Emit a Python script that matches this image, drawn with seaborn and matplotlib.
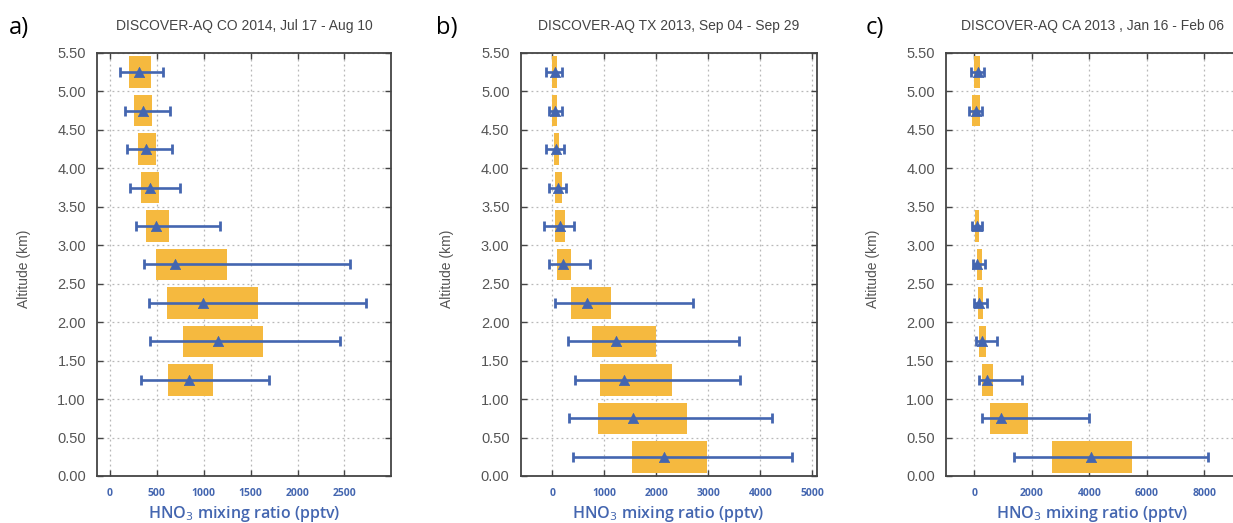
import matplotlib
matplotlib.use('Agg')
import matplotlib.pyplot as plt
import numpy as np
import pandas as pd
import seaborn as sns

# Altitude bin centres (km) and HNO3 statistics (pptv)
alt_a = [5.25, 4.75, 4.25, 3.75, 3.25, 2.75, 2.25, 1.75, 1.25]
box_lo_a = [206, 259, 298, 337, 387, 493, 606, 780, 621]
box_hi_a = [436, 454, 493, 528, 631, 1245, 1578, 1635, 1099]
mid_a = [312, 358, 383, 426, 489, 695, 993, 1156, 840]
err_lo_a = [106, 160, 184, 213, 280, 365, 422, 433, 337]
err_hi_a = [571, 642, 663, 748, 1170, 2557, 2734, 2454, 1699]

alt_b = [5.25, 4.75, 4.25, 3.75, 3.25, 2.75, 2.25, 1.75, 1.25, 0.75, 0.25]
box_lo_b = [-6, -6, 26, 45, 45, 90, 359, 769, 910, 872, 1532]
box_hi_b = [96, 96, 135, 180, 237, 365, 1122, 2000, 2301, 2596, 2981]
mid_b = [45, 45, 64, 115, 141, 212, 660, 1224, 1385, 1558, 2154]
err_lo_b = [-122, -70, -122, -64, -167, -64, 58, 295, 442, 321, 391]
err_hi_b = [180, 180, 224, 263, 417, 718, 2712, 3596, 3615, 4224, 4609]

alt_c = [5.25, 4.75, 3.25, 2.75, 2.25, 1.75, 1.25, 0.75, 0.25]
box_lo_c = [0, -93, 12, 81, 127, 162, 267, 533, 2689]
box_hi_c = [209, 209, 162, 255, 301, 417, 661, 1854, 5482]
mid_c = [116, 58, 93, 93, 174, 255, 452, 916, 4045]
err_lo_c = [-104, -174, -70, -35, 0, 46, 151, 278, 1391]
err_hi_c = [336, 278, 278, 382, 440, 776, 1669, 3987, 8136]

titles = ['DISCOVER-AQ CO 2014, Jul 17 - Aug 10',
          'DISCOVER-AQ TX 2013, Sep 04 - Sep 29',
          'DISCOVER-AQ CA 2013 , Jan 16 - Feb 06']
panel_tags = ['a)', 'b)', 'c)']
x_ticks = [np.arange(0, 2501, 500), np.arange(0, 5001, 1000), np.arange(0, 8001, 2000)]
x_lims = [(-135, 2995), (-608, 5085), (-985, 9200)]
y_ticks = np.arange(0, 5.51, 0.5)

sns.set_theme(style='ticks')
plt.rcParams['font.family'] = ['Liberation Sans', 'DejaVu Sans']

orange = '#f5b93f'
blue = '#4466b0'
grey_txt = '#555555'

fig = plt.figure(figsize=(12.33, 5.23), dpi=100)
positions = [[0.0787, 0.0899, 0.2384, 0.8088],
             [0.4223, 0.0899, 0.2401, 0.8088],
             [0.7672, 0.0899, 0.2376, 0.8088]]

panels = [
    (alt_a, box_lo_a, box_hi_a, mid_a, err_lo_a, err_hi_a),
    (alt_b, box_lo_b, box_hi_b, mid_b, err_lo_b, err_hi_b),
    (alt_c, box_lo_c, box_hi_c, mid_c, err_lo_c, err_hi_c),
]

for i, (alt, blo, bhi, mid, elo, ehi) in enumerate(panels):
    ax = fig.add_axes(positions[i])
    df = pd.DataFrame({'alt': alt, 'blo': blo, 'bhi': bhi, 'mid': mid, 'elo': elo, 'ehi': ehi})

    # interquartile-style boxes
    ax.barh(df['alt'], df['bhi'] - df['blo'], left=df['blo'], height=0.41,
            color=orange, edgecolor='none', zorder=2)
    # range whiskers
    ax.errorbar(df['mid'], df['alt'],
                xerr=[df['mid'] - df['elo'], df['ehi'] - df['mid']],
                fmt='none', ecolor=blue, elinewidth=1.9, capsize=3.5, capthick=2, zorder=3)
    sns.scatterplot(data=df, x='mid', y='alt', marker='^', s=55, color=blue,
                    edgecolor=blue, linewidth=0.5, ax=ax, zorder=4)

    ax.set_xlim(*x_lims[i])
    ax.set_ylim(0, 5.5)
    ax.set_xticks(x_ticks[i])
    ax.set_yticks(y_ticks)
    ax.set_yticklabels([f'{v:.2f}' for v in y_ticks])
    ax.set_axisbelow(True)
    ax.grid(True, linestyle=(0, (1.5, 2.5)), color='#b8b8b8', linewidth=0.9)

    for sp in ax.spines.values():
        sp.set_color('#444444')
        sp.set_linewidth(1.3)
    ax.tick_params(direction='in', top=True, right=True, length=4, width=1, color='#444444')
    ax.tick_params(axis='y', labelsize=10.5, labelcolor=grey_txt, pad=8)
    ax.tick_params(axis='x', labelsize=7.5, labelcolor=blue, pad=9)
    for lab in ax.get_xticklabels():
        lab.set_fontweight('bold')
        lab.set_family('Open Sans')

    ax.set_xlabel('HNO$_3$ mixing ratio (pptv)', color=blue, fontsize=11.5,
                  fontweight='semibold', family='Open Sans', labelpad=3)
    ax.set_ylabel('Altitude (km)', color=grey_txt, fontsize=10)
    ax.yaxis.set_label_coords(-0.225, 0.49)

    xc = positions[i][0] + positions[i][2] / 2
    fig.text(xc, 0.950, titles[i], ha='center', va='center', fontsize=10, color='#444444')

tag_x = [0.007, 0.354, 0.702]
for t, x in zip(panel_tags, tag_x):
    fig.text(x, 0.946, t, ha='left', va='center', fontsize=17, color='black', family='Open Sans')

fig.savefig('out.png', dpi=100)
